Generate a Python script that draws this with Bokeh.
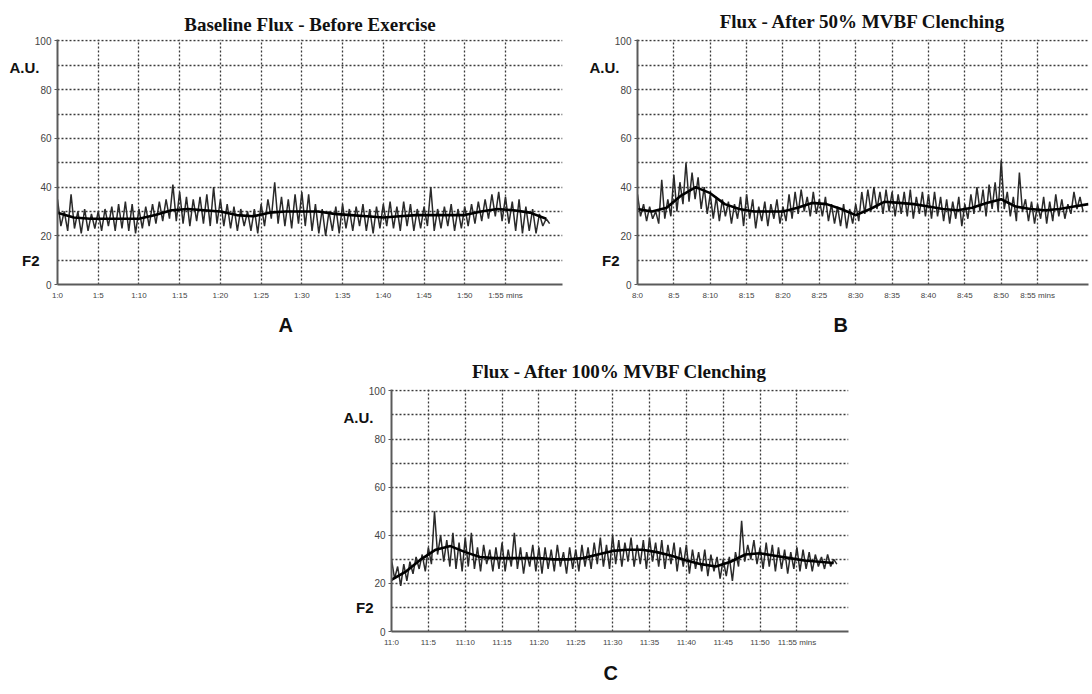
from bokeh.plotting import figure
from bokeh.models import FixedTicker, Range1d, Title, Spacer, LinearAxis
from bokeh.layouts import row, column
from bokeh.embed import file_html
from bokeh.resources import INLINE

# ---------------- data ----------------
SAMPLE_STEP = 5 / 12      # seconds between raw flux samples
SMOOTH_STEP = 2           # seconds between smoothed-trend samples
X_END = 62
TICK_SECONDS = [0, 5, 10, 15, 20, 25, 30, 35, 40, 45, 50, 55]
Y_TICKS = [0, 20, 40, 60, 80, 100]
Y_GRID = [10, 20, 30, 40, 50, 60, 70, 80, 90, 100]
SIDE_TICKS = [89, 10]
SIDE_LABELS = ["A.U.", "F2"]

a_title = "Baseline Flux - Before Exercise"
b_title = "Flux - After 50% MVBF Clenching"
c_title = "Flux - After 100% MVBF Clenching"

a_tick_labels = ["1:0", "1:5", "1:10", "1:15", "1:20", "1:25", "1:30", "1:35",
                 "1:40", "1:45", "1:50", "1:55 mins"]
b_tick_labels = ["8:0", "8:5", "8:10", "8:15", "8:20", "8:25", "8:30", "8:35",
                 "8:40", "8:45", "8:50", "8:55 mins"]
c_tick_labels = ["11:0", "11:5", "11:10", "11:15", "11:20", "11:25", "11:30", "11:35",
                 "11:40", "11:45", "11:50", "11:55 mins"]

a_flux = [35, 24, 30, 22, 37, 23, 30, 21, 31, 22, 29, 23,
          30, 22, 31, 24, 32, 22, 33, 23, 34, 22, 33, 21,
          31, 23, 32, 24, 33, 25, 34, 26, 35, 27, 41, 26,
          38, 25, 36, 24, 35, 26, 36, 25, 37, 24, 40, 25,
          35, 24, 33, 23, 32, 22, 31, 24, 30, 22, 31, 21,
          33, 24, 35, 27, 42, 25, 36, 24, 35, 23, 37, 25,
          38, 24, 37, 22, 33, 21, 31, 20, 30, 22, 32, 21,
          33, 23, 31, 22, 32, 24, 33, 22, 31, 21, 32, 23,
          33, 24, 34, 23, 32, 22, 34, 24, 33, 22, 31, 23,
          32, 24, 40, 22, 31, 23, 32, 24, 33, 22, 31, 23,
          32, 24, 33, 25, 34, 26, 35, 27, 37, 28, 38, 26,
          36, 25, 34, 22, 35, 21, 32, 22, 31, 21, 29, 24,
          27, 25]
a_trend = [29.5, 27.5, 27, 27, 27, 27, 28.5, 30.5, 31, 30.5, 30, 28.5, 28, 29.5, 30, 30,
           30, 29, 28.5, 28, 27.5, 28, 28.5, 28.5, 28.5, 28.5, 30, 31, 30.5, 29.5, 27]

b_flux = [37, 28, 33, 26, 32, 27, 30, 25, 43, 27, 35, 28,
          45, 30, 42, 33, 50, 34, 46, 35, 44, 31, 40, 29,
          37, 27, 36, 26, 35, 28, 34, 25, 33, 27, 36, 24,
          37, 27, 35, 23, 32, 26, 34, 24, 33, 27, 35, 25,
          32, 26, 37, 27, 38, 29, 39, 30, 36, 28, 38, 29,
          35, 28, 36, 26, 33, 25, 32, 24, 33, 23, 31, 25,
          33, 26, 38, 29, 39, 30, 40, 31, 38, 29, 39, 30,
          38, 28, 37, 29, 38, 28, 39, 27, 36, 29, 38, 28,
          37, 27, 38, 28, 36, 26, 35, 25, 34, 27, 36, 24,
          33, 27, 37, 29, 40, 30, 39, 28, 41, 31, 42, 30,
          51, 31, 38, 28, 36, 26, 46, 30, 35, 26, 34, 25,
          33, 27, 36, 25, 34, 26, 37, 28, 35, 27, 33, 29,
          38, 31, 36, 30]
b_trend = [31, 30, 31.5, 36.5, 40, 37.5, 33, 31, 30, 30, 30, 31.5, 33.5, 33, 31, 28.5,
           31, 34, 33.5, 33, 32, 31, 30.5, 31.5, 33.5, 35, 32, 31, 30.5, 31, 32, 33]

c_flux = [30, 22, 27, 19, 28, 21, 29, 24, 31, 26, 32, 25,
          35, 28, 50, 32, 40, 29, 38, 27, 41, 26, 37, 25,
          39, 27, 41, 26, 35, 25, 36, 28, 34, 25, 35, 26,
          37, 25, 34, 27, 41, 26, 35, 24, 33, 27, 36, 25,
          35, 24, 35, 26, 34, 25, 36, 27, 33, 24, 35, 26,
          34, 25, 36, 27, 35, 26, 37, 28, 39, 27, 36, 26,
          40, 28, 38, 27, 37, 29, 39, 27, 36, 28, 38, 26,
          39, 29, 37, 27, 38, 26, 36, 28, 37, 25, 35, 27,
          36, 24, 34, 26, 33, 25, 34, 23, 32, 25, 31, 22,
          30, 23, 31, 21, 33, 27, 46, 29, 36, 30, 38, 28,
          35, 26, 37, 27, 36, 25, 35, 26, 34, 24, 33, 26,
          35, 25, 34, 26, 33, 25, 32, 27, 31, 26, 32, 27,
          30, 28]
c_trend = [21.5, 25, 30, 34, 35.5, 33, 31, 30.5, 30.5, 30.5, 30.5, 30, 30, 30.5, 32, 33.5,
           34, 34, 33, 31.5, 29.5, 28, 27, 29, 32, 32.5, 31.5, 30.5, 29.5, 29, 28.5]

# ---------------- drawing ----------------
GRID_COLOR = "#3a3a3a"
AXIS_COLOR = "#5a5a5a"
TEXT_COLOR = "#111111"


def make_panel(title, tick_labels, flux, trend, width, height, bl, br, bt, bb,
               title_standoff, letter, letter_offset, letter_standoff):
    p = figure(width=width, height=height, x_range=Range1d(0, X_END), y_range=Range1d(0, 100.6),
               output_backend="svg", toolbar_location=None,
               min_border_left=bl, min_border_right=br, min_border_top=bt, min_border_bottom=bb)
    p.outline_line_color = None
    p.background_fill_color = "white"
    p.border_fill_color = "white"

    p.title.text = title
    p.title.text_font = "Liberation Serif"
    p.title.text_font_size = "19px"
    p.title.text_font_style = "bold"
    p.title.text_color = TEXT_COLOR
    p.title.align = "center"
    p.title.standoff = title_standoff

    p.xaxis.ticker = FixedTicker(ticks=TICK_SECONDS)
    p.xaxis.major_label_overrides = {t: lab for t, lab in zip(TICK_SECONDS, tick_labels)}
    p.yaxis.ticker = FixedTicker(ticks=Y_TICKS)
    for ax in (p.xaxis[0], p.yaxis[0]):
        ax.axis_line_color = AXIS_COLOR
        ax.axis_line_width = 2
        ax.major_tick_line_color = AXIS_COLOR
        ax.major_tick_in = 0
        ax.minor_tick_line_color = None
        ax.major_label_text_font = "Liberation Sans"
        ax.major_label_text_color = "#444444"
    p.xaxis[0].major_tick_out = 0
    p.xaxis[0].major_label_standoff = 6
    p.xaxis[0].major_label_text_font_size = "8px"
    p.yaxis[0].major_tick_out = 3
    p.yaxis[0].major_label_standoff = 3
    p.yaxis[0].major_label_text_font_size = "10px"

    side = LinearAxis(ticker=FixedTicker(ticks=SIDE_TICKS),
                      major_label_overrides={t: lab for t, lab in zip(SIDE_TICKS, SIDE_LABELS)},
                      axis_line_color=None, major_tick_line_color=None,
                      minor_tick_line_color=None, major_label_standoff=-14,
                      major_label_text_font="Liberation Sans",
                      major_label_text_font_style="bold",
                      major_label_text_font_size="15px",
                      major_label_text_color=TEXT_COLOR)
    p.add_layout(side, "left")

    p.xgrid.ticker = FixedTicker(ticks=TICK_SECONDS[1:])
    p.ygrid.ticker = FixedTicker(ticks=Y_GRID)
    for g in (p.xgrid[0], p.ygrid[0]):
        g.grid_line_color = GRID_COLOR
        g.grid_line_dash = "2 2"
        g.grid_line_width = 1.3

    t_flux = [i * SAMPLE_STEP for i in range(len(flux))]
    t_trend = [i * SMOOTH_STEP for i in range(len(trend))]
    p.line(t_flux, flux, line_color="#2a2a2a", line_width=1.5)
    p.line(t_trend, trend, line_color="#000000", line_width=2.6)

    p.add_layout(Title(text=letter, align="left", offset=letter_offset,
                       standoff=letter_standoff, text_font="Liberation Sans",
                       text_font_style="bold", text_font_size="20px",
                       text_color=TEXT_COLOR), "below")
    return p


pA = make_panel(a_title, a_tick_labels, a_flux, a_trend, 575, 345, 57, 13, 39, 59,
                10, "A", 221, 19)
pB = make_panel(b_title, b_tick_labels, b_flux, b_trend, 515, 345, 62, 2, 39, 59,
                16, "B", 196, 19)
pC = make_panel(c_title, c_tick_labels, c_flux, c_trend, 520, 349, 49, 12, 44, 63,
                15, "C", 212, 20)

layout = column(row(pA, pB), row(Spacer(width=340, height=349), pC))

open("out.html", "w").write(file_html(layout, INLINE))
